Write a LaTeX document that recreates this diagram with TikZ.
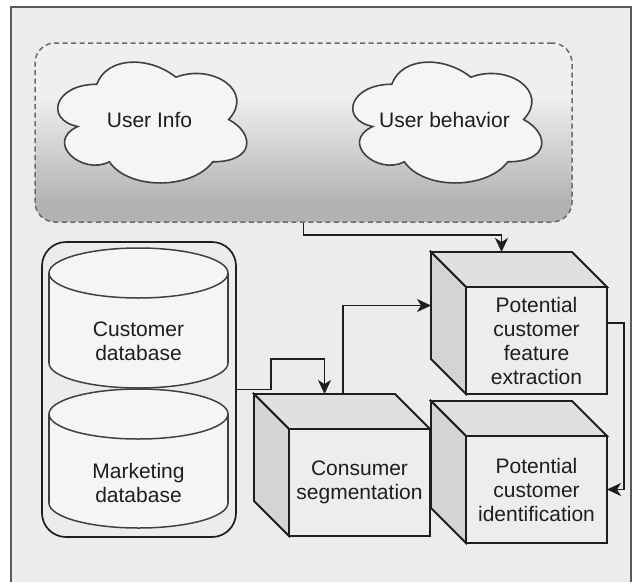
\documentclass[tikz,border=0pt]{standalone}
\usepackage{fontspec}
\setmainfont{Liberation Sans}
\usetikzlibrary{arrows.meta,calc}

\definecolor{pagebg}{HTML}{ECECEC}
\definecolor{framec}{HTML}{5A5A5A}
\definecolor{ink}{HTML}{1E1E1E}
\definecolor{dashc}{HTML}{6A6A6A}
\definecolor{gtop}{HTML}{EFEFEF}
\definecolor{gbot}{HTML}{B2B2B2}
\definecolor{lightfill}{HTML}{F5F5F5}
\definecolor{frontc}{HTML}{EDEDED}
\definecolor{topc}{HTML}{E0E0E0}
\definecolor{sidec}{HTML}{D4D4D4}

% light band at the top, dark band at the bottom
\pgfdeclareverticalshading{groupfade}{100bp}{%
  color(0bp)=(gbot); color(30bp)=(gbot); color(60bp)=(gtop); color(100bp)=(gtop)}

% top and left faces of a box whose front face is node #1
\newcommand{\cubesides}[1]{%
  \filldraw[cubeedge, fill=topc] (#1.north west) -- ++(-35,-35)
    -- ($(#1.north east)+(-35,-35)$) -- (#1.north east) -- cycle;
  \filldraw[cubeedge, fill=sidec] (#1.north west) -- ++(-35,-35)
    -- ($(#1.south west)+(-35,-35)$) -- (#1.south west) -- cycle;
}

% cylinder with top ellipse centre #1, bottom ellipse centre #2
\newcommand{\dbcylinder}[2]{%
  \filldraw[cylline, fill=lightfill] (#2) ellipse [x radius=89.5pt, y radius=25pt];
  \fill[lightfill] ($(#1)+(-89.5,0)$) rectangle ($(#2)+(89.5,0)$);
  \draw[cylline] ($(#1)+(-89.5,0)$) -- ($(#2)+(-89.5,0)$)
                 ($(#1)+(89.5,0)$) -- ($(#2)+(89.5,0)$);
  \filldraw[cylline, fill=lightfill] (#1) ellipse [x radius=89.5pt, y radius=25pt];
}

\tikzset{
  txt/.style={font=\fontsize{21}{24}\selectfont, text=ink, align=center, inner sep=0pt},
  cubeedge/.style={draw=ink, line width=1.8pt, line join=miter},
  cubefront/.style={txt, cubeedge, fill=frontc, minimum width=141pt,
    minimum height=107pt, outer sep=0pt},
  cylline/.style={draw=ink!85, line width=1.5pt},
  conn/.style={draw=ink, line width=1.7pt,
    -{Stealth[length=14pt, width=13pt, inset=4pt]}},
  cloudshape/.pic={
    \filldraw[draw=ink!85, line width=1.6pt, fill=lightfill]
      (-52.75,-35.25)
      .. controls (-94.95,-35.25) and (-105.5,0) .. (-71.74,7.05)
      .. controls (-105.5,22.56) and (-67.52,56.4) .. (-40.09,42.3)
      .. controls (-21.1,70.5) and (42.2,70.5) .. (63.3,42.3)
      .. controls (105.5,42.3) and (105.5,14.1) .. (79.125,0)
      .. controls (105.5,-28.2) and (63.3,-56.4) .. (26.375,-42.3)
      .. controls (0,-63.45) and (-42.2,-63.45) .. (-52.75,-35.25)
      -- cycle;
  }
}

\begin{document}
\begin{tikzpicture}[x=1pt, y=-1pt]
\useasboundingbox (0,0) rectangle (634,581);
\fill[white] (0,0) rectangle (634,581);

% outer frame
\filldraw[draw=framec, fill=pagebg, line width=2pt] (11,7) rectangle (631,600);

% dashed group holding the two clouds
\node[draw=dashc, dashed, dash pattern=on 5pt off 3.5pt, line width=1.5pt,
      rounded corners=20pt, shading=groupfade,
      minimum width=537pt, minimum height=179pt, inner sep=0pt]
  (grp) at (303.5,132.5) {};

\pic at (149.5,119.5) {cloudshape};
\pic at (444.5,119.5) {cloudshape};
\node[txt] (ui) at (149.5,120) {User Info};
\node[txt] (ub) at (444.5,120) {User behavior};

% database group
\node[draw=ink, line width=1.7pt, rounded corners=24pt, fill=pagebg,
      minimum width=194pt, minimum height=295pt, inner sep=0pt, outer sep=0pt]
  (dbg) at (139,389.5) {};
\dbcylinder{138.5,273}{138.5,363}
\dbcylinder{138.5,414}{138.5,503}
\node[txt] (cdb) at (138.5,341) {Customer\\database};
\node[txt] (mdb) at (138.5,483) {Marketing\\database};

% processing boxes
\node[cubefront] (fe) at (536.5,340.5) {Potential\\customer\\feature\\extraction};
\cubesides{fe}
\node[cubefront] (cs) at (359.5,482.5) {Consumer\\segmentation};
\cubesides{cs}
\node[cubefront] (pi) at (536.5,489.5) {Potential\\customer\\identification};
\cubesides{pi}

% connection points on the boxes
\coordinate (fetop)  at ($(fe.north)+(-35,-35)$);
\coordinate (feleft) at ($(fe.west)+(-35,-35)$);
\coordinate (feout)  at ($(fe.east)+(0,-17.5)$);
\coordinate (cstop)  at ($(cs.north)+(-35,-35)$);
\coordinate (csout)  at ($(cs.north)+(-16.5,-35)$);

% connectors
\draw[conn] (grp.south) -- ++(0,12) -| (fetop);
\draw[conn] (dbg.east) -- ++(35,0) -- ++(0,-30.5) -| (cstop);
\draw[conn] (csout) |- (feleft);
\draw[conn] (feout) -- ++(17,0) |- (pi.east);
\end{tikzpicture}
\end{document}
